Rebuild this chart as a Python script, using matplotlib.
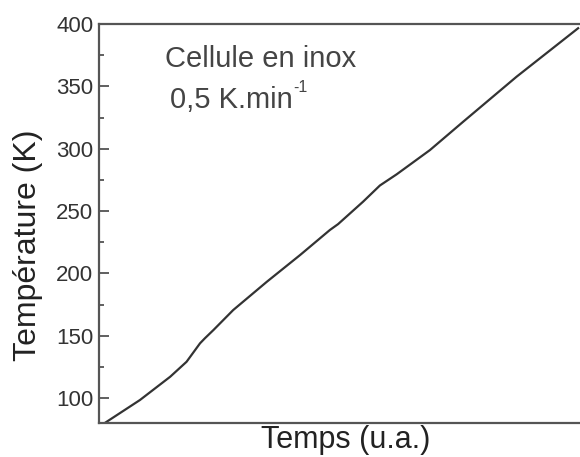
import matplotlib
matplotlib.use("Agg")
import matplotlib.pyplot as plt

plt.rcParams['font.family'] = ['Liberation Sans', 'DejaVu Sans']

# Données (temps en unités arbitraires)
temps = [0.012, 0.085, 0.148, 0.182, 0.210, 0.220, 0.238, 0.279, 0.349,
         0.418, 0.480, 0.497, 0.549, 0.584, 0.619, 0.688, 0.757, 0.868, 0.996]
temperature = [80, 98.4, 117.1, 129.1, 143.9, 147.9, 154.6, 170.6, 193.3,
               214.7, 234.8, 239.5, 257.5, 270.5, 279.5, 298.9, 321.6, 357.7, 396.6]
yticks = [100, 150, 200, 250, 300, 350, 400]
yminor = [125, 175, 225, 275, 325, 375]

gris = '#444444'

fig = plt.figure(figsize=(5.8, 4.57), dpi=100)
ax = fig.add_axes([0.1707, 0.0744, 0.836, 0.8731])

ax.plot(temps, temperature, color='#333333', lw=1.6)

ax.set_xlim(0, 1.008)
ax.set_ylim(80, 400)
ax.set_xticks([])
ax.set_yticks(yticks)
ax.set_yticks(yminor, minor=True)
ax.tick_params(axis='y', which='major', direction='in', length=7, width=1.2,
               labelsize=16, colors=gris, pad=4)
ax.tick_params(axis='y', which='minor', direction='in', length=3.5, width=1.2,
               colors=gris)
for lab in ax.get_yticklabels():
    lab.set_color('#333333')

for s in ['left', 'top', 'bottom']:
    ax.spines[s].set_linewidth(1.6)
    ax.spines[s].set_color('#555555')
ax.spines['right'].set_visible(False)

ax.set_ylabel('Température (K)', fontsize=23, color='#222222')
ax.yaxis.set_label_coords(-0.115, 0.446)
ax.set_xlabel('Temps (u.a.)', fontsize=22, color='#222222')
ax.xaxis.set_label_coords(0.508, -0.005)

ax.text(0.137, 0.892, 'Cellule en inox', transform=ax.transAxes,
        fontsize=21, color=gris, va='baseline')
t2 = ax.text(0.147, 0.79, '0,5 K.min', transform=ax.transAxes,
             fontsize=21, color=gris, va='baseline')
ax.annotate('-1', xy=(1, 1), xycoords=t2, xytext=(0.5, 4),
            textcoords='offset points', fontsize=11.5, color=gris,
            ha='left', va='top')

fig.savefig('out.png', dpi=100)
